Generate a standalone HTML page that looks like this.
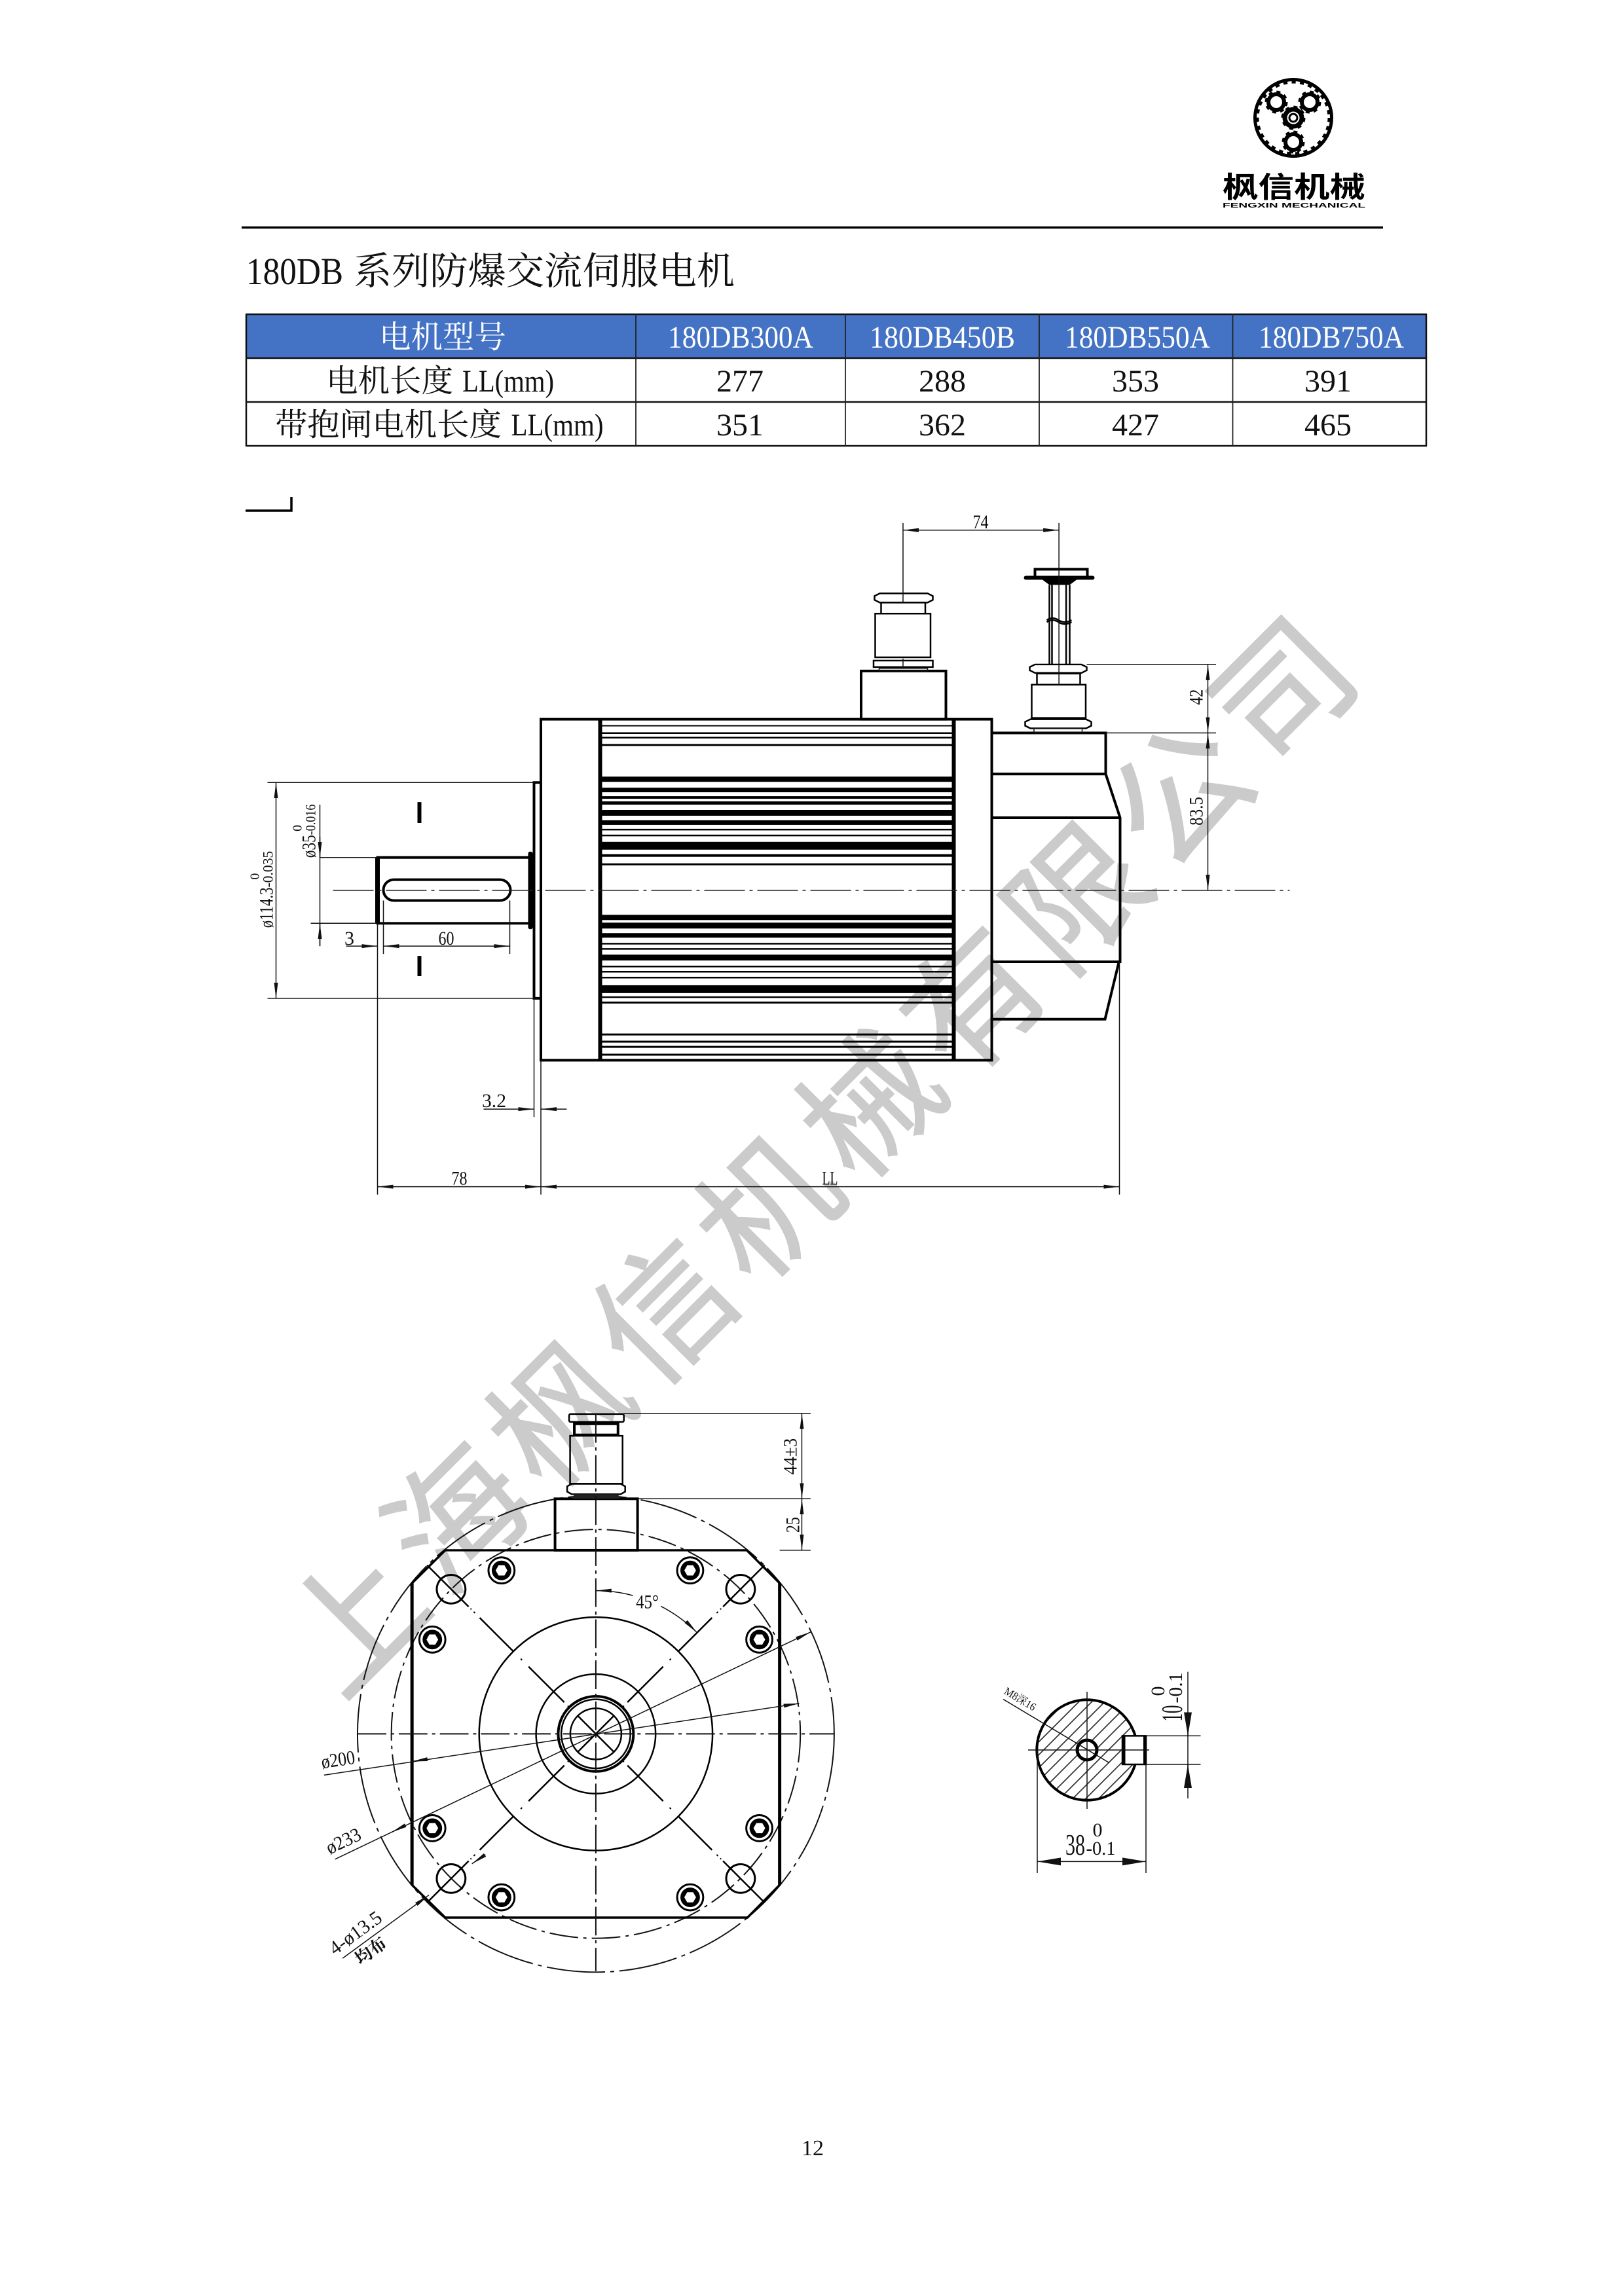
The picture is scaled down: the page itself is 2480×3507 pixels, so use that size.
<!DOCTYPE html>
<html><head><meta charset="utf-8"><style>
html,body{margin:0;padding:0;background:#fff}
svg{display:block}
.d{font-family:"Liberation Serif","Noto Serif CJK SC",serif;font-size:30px;fill:#111;text-anchor:middle}
.t{font-family:"Liberation Serif","Noto Serif CJK SC",serif;font-size:48px;fill:#111;text-anchor:middle}
.wt{fill:#fff}
.k{fill:none;stroke:#000;stroke-width:4}
.m{fill:none;stroke:#000;stroke-width:2.5}
.n{fill:none;stroke:#111;stroke-width:1.5}
.c{fill:none;stroke:#222;stroke-width:1.5;stroke-dasharray:62 7 5 7}
.f{fill:none;stroke:#111;stroke-width:2;stroke-dasharray:44 7 5 7}
</style></head><body>
<svg xmlns="http://www.w3.org/2000/svg" width="2480" height="3507" viewBox="0 0 2480 3507">
<defs>
<marker id="a" markerUnits="userSpaceOnUse" markerWidth="24" markerHeight="8" refX="24" refY="4" orient="auto-start-reverse"><path d="M0 1L24 4L0 7Z" fill="#111"/></marker>
<marker id="b" markerUnits="userSpaceOnUse" markerWidth="36" markerHeight="12" refX="36" refY="6" orient="auto-start-reverse"><path d="M0 0L36 6L0 12Z" fill="#111"/></marker>
<pattern id="h" patternUnits="userSpaceOnUse" width="14" height="14" patternTransform="rotate(-45)"><line x1="0" y1="7" x2="14" y2="7" stroke="#111" stroke-width="1.5"/></pattern>
<g id="ray"><path d="M366 0H276M252 0H178.6M146 0H68.5M39 0H0" stroke="#000" stroke-width="2.5" fill="none"/><path d="M262 0h3M270 0h2M160 0h3M58 0h3" stroke="#000" stroke-width="2" fill="none"/></g>
<g id="scr"><circle r="20" fill="#fff" stroke="#000" stroke-width="3"/><circle r="15" fill="#000"/><polygon points="9,0 4.5,7.8 -4.5,7.8 -9,0 -4.5,-7.8 4.5,-7.8" fill="#fff"/></g>
<g id="gear"><circle r="12" fill="none" stroke="#000" stroke-width="6"/><circle r="15.5" fill="none" stroke="#000" stroke-width="4" stroke-dasharray="6 6.2"/></g>
</defs>

<!-- watermark -->
<text transform="rotate(-45 543 2472)" x="437" y="2547" font-family="'Noto Sans CJK SC',sans-serif" font-size="205" letter-spacing="18" fill="#cbcbcb" stroke="#cbcbcb" stroke-width="2">上海枫信机械有限公司</text>

<!-- logo -->
<circle cx="1975" cy="180" r="58.5" fill="#fff" stroke="#000" stroke-width="5"/>
<circle cx="1975" cy="180" r="54.5" fill="none" stroke="#000" stroke-width="4" stroke-dasharray="6.3 6.4"/>
<use href="#gear" x="1949" y="156"/><use href="#gear" x="2000" y="156"/><use href="#gear" x="1975" y="217"/>
<circle cx="1975" cy="180" r="13" fill="none" stroke="#000" stroke-width="7"/><circle cx="1975" cy="180" r="16.5" fill="none" stroke="#000" stroke-width="4" stroke-dasharray="6 7"/>
<circle cx="1975" cy="180" r="6" fill="none" stroke="#000" stroke-width="3"/>
<text x="1867" y="301" font-family="'Noto Sans CJK SC',sans-serif" font-weight="700" font-size="44" textLength="218" lengthAdjust="spacingAndGlyphs">枫信机械</text>
<text x="1867" y="317" font-family="'Liberation Sans',sans-serif" font-weight="700" font-size="10" textLength="218" lengthAdjust="spacingAndGlyphs">FENGXIN MECHANICAL</text>
<line x1="369" y1="347.5" x2="2112" y2="347.5" stroke="#000" stroke-width="3.5"/>

<!-- title -->
<text x="376" y="434" font-family="'Liberation Serif',serif" font-size="58" fill="#111" textLength="148" lengthAdjust="spacingAndGlyphs">180DB</text>
<text x="540" y="434" font-family="'Noto Serif CJK SC',serif" font-size="58" fill="#111" textLength="582" lengthAdjust="spacingAndGlyphs">系列防爆交流伺服电机</text>

<!-- table -->
<rect x="376" y="480" width="1802" height="67" fill="#4472c4"/>
<path d="M375 480H2179M375 547H2179M375 614H2179M375 681H2179M376 480V681M2178 480V681" stroke="#111" stroke-width="2.5" fill="none"/>
<path d="M971 480V681M1291 480V681M1587 480V681M1882.5 480V681" stroke="#222" stroke-width="1.8" fill="none"/>
<text class="t wt" style="fill:#fff" x="676" y="531" textLength="194" lengthAdjust="spacingAndGlyphs">电机型号</text>
<text class="t" style="fill:#fff" x="1131" y="531" textLength="222" lengthAdjust="spacingAndGlyphs">180DB300A</text>
<text class="t" style="fill:#fff" x="1439" y="531" textLength="222" lengthAdjust="spacingAndGlyphs">180DB450B</text>
<text class="t" style="fill:#fff" x="1737" y="531" textLength="222" lengthAdjust="spacingAndGlyphs">180DB550A</text>
<text class="t" style="fill:#fff" x="2033" y="531" textLength="222" lengthAdjust="spacingAndGlyphs">180DB750A</text>
<text class="t" x="595" y="598" textLength="194" lengthAdjust="spacingAndGlyphs">电机长度</text>
<text class="t" x="776" y="598" textLength="140" lengthAdjust="spacingAndGlyphs">LL(mm)</text>
<text class="t" x="1130" y="598">277</text><text class="t" x="1439" y="598">288</text><text class="t" x="1734" y="598">353</text><text class="t" x="2028" y="598">391</text>
<text class="t" x="593" y="665" textLength="346" lengthAdjust="spacingAndGlyphs">带抱闸电机长度</text>
<text class="t" x="851" y="665" textLength="141" lengthAdjust="spacingAndGlyphs">LL(mm)</text>
<text class="t" x="1130" y="665">351</text><text class="t" x="1439" y="665">362</text><text class="t" x="1734" y="665">427</text><text class="t" x="2028" y="665">465</text>
<path d="M375 780H445V759" fill="none" stroke="#000" stroke-width="3.5"/>

<!-- SIDE VIEW -->
<g transform="matrix(1 0 0 .9959 -1.5 3.1)">
<!-- fins -->
<g fill="#000">
<rect x="917" y="1109" width="540" height="2"/><rect x="917" y="1120" width="540" height="2.5"/><rect x="917" y="1127" width="540" height="2.5"/><rect x="917" y="1138" width="540" height="3"/>
<rect x="917" y="1188" width="540" height="8"/><rect x="917" y="1205" width="540" height="7"/><rect x="917" y="1218" width="540" height="4"/><rect x="917" y="1226" width="540" height="5"/><rect x="917" y="1239" width="540" height="9"/><rect x="917" y="1255" width="540" height="7"/><rect x="917" y="1268" width="540" height="2.5"/><rect x="917" y="1277" width="540" height="2.5"/><rect x="917" y="1288" width="540" height="12"/><rect x="917" y="1307" width="540" height="4"/><rect x="917" y="1321" width="540" height="3"/>
<rect x="917" y="1400" width="540" height="8"/><rect x="917" y="1412" width="540" height="9"/><rect x="917" y="1428" width="540" height="7"/><rect x="917" y="1443" width="540" height="2.5"/><rect x="917" y="1451" width="540" height="2.5"/><rect x="917" y="1461" width="540" height="9"/><rect x="917" y="1478" width="540" height="2.5"/><rect x="917" y="1486" width="540" height="2.5"/><rect x="917" y="1495" width="540" height="2.5"/><rect x="917" y="1508" width="540" height="12"/><rect x="917" y="1525" width="540" height="2.5"/><rect x="917" y="1533" width="540" height="3"/>
<rect x="917" y="1582" width="540" height="3"/><rect x="917" y="1593" width="540" height="3"/><rect x="917" y="1601" width="540" height="3"/><rect x="917" y="1613" width="540" height="3"/>
</g>
<rect x="827.5" y="1100" width="688.5" height="523" fill="none" stroke="#000" stroke-width="4"/>
<path d="M918 1100V1623M1458 1100V1623" stroke="#000" stroke-width="6" fill="none"/>
<!-- pilot and shaft -->
<path d="M827 1197H817V1528H827" class="k"/>
<path d="M811 1312H578V1413H811" class="k"/>
<line x1="578" y1="1312" x2="578" y2="1413" stroke="#000" stroke-width="7"/>
<rect x="808" y="1303" width="7" height="119" rx="3" fill="#000"/>
<rect x="587" y="1346" width="194" height="32" rx="16" class="k"/>
<path d="M642 1227V1259M642 1463V1494" stroke="#000" stroke-width="6"/>
<!-- top connector 1 -->
<rect x="1316.5" y="1026" width="129.5" height="74" class="k"/>
<rect x="1344" y="1022" width="74" height="4" class="n"/>
<path d="M1335.5 1010H1426V1020H1335.5Z" class="m"/><path d="M1380.5 1007V1022" class="n"/>
<rect x="1338" y="938" width="84.5" height="67" class="m"/>
<rect x="1347" y="921" width="67.5" height="17" class="m"/>
<path d="M1337 911L1345 907H1418L1426 911V917L1418 921H1345L1337 917Z" class="m"/>
<!-- rear -->
<path d="M1517 1121H1690V1184M1517 1184H1690L1712 1251V1472H1517M1517 1251H1712M1710 1473L1689 1560H1517" class="k"/>
<!-- connector 2 -->
<path d="M1567 1104L1575 1100H1660L1668 1104V1110L1660 1114H1575L1567 1110Z" class="m"/>
<rect x="1580.5" y="1114" width="73.5" height="7" class="n"/>
<rect x="1577" y="1047" width="82.5" height="51" class="m"/>
<rect x="1585" y="1030" width="66" height="17" class="m"/>
<path d="M1574 1020L1582 1016H1653L1661 1020V1025L1653 1029H1582L1574 1025Z" class="m"/>
<path d="M1604 894V1016M1635 894V1016" class="m"/>
<path d="M1608 894V1016M1629.6 894V1016" class="m"/>
<path d="M1600 948q9 -6 18 0t20 0M1600 951q9 -6 18 0t20 0" class="m"/>
<line x1="1568" y1="883" x2="1670" y2="883" stroke="#000" stroke-width="6" stroke-linecap="round"/>
<path d="M1582 883V870H1662V883" class="k"/>
<path d="M1592 885L1604 894H1635L1647 885Z" fill="#000"/>
<!-- centerline -->
<line x1="510" y1="1362.5" x2="1971" y2="1362.5" class="c"/>
<!-- side dims -->
<path d="M1380.5 799V921M1618.6 799V1047" class="n"/>
<line x1="1380.5" y1="810" x2="1618.6" y2="810" class="n" marker-start="url(#a)" marker-end="url(#a)"/>
<path d="M1661 1016H1858.5M1690 1121H1858.5" class="n"/>
<line x1="1846" y1="1016" x2="1846" y2="1121" class="n" marker-start="url(#a)" marker-end="url(#a)"/>
<line x1="1846" y1="1121" x2="1846" y2="1362.5" class="n" marker-start="url(#a)" marker-end="url(#a)"/>
<path d="M410 1197H817M410 1528H817" class="n"/>
<line x1="423" y1="1197" x2="423" y2="1528" class="n" marker-start="url(#a)" marker-end="url(#a)"/>
<path d="M490 1312H578M476 1413H578" class="n"/>
<path d="M490 1231V1448" class="n"/>
<line x1="490" y1="1280" x2="490" y2="1312" class="n" marker-end="url(#a)"/>
<line x1="490" y1="1448" x2="490" y2="1413" class="n" marker-end="url(#a)"/>
<path d="M578 1413V1829M587 1378V1460M780 1378V1460M817 1528V1710M827.5 1623V1829M1711 1472V1829" class="n"/>
<line x1="587" y1="1448" x2="780" y2="1448" class="n" marker-start="url(#a)" marker-end="url(#a)"/>
<line x1="530" y1="1448" x2="578" y2="1448" class="n" marker-end="url(#a)"/>
<line x1="740" y1="1698" x2="817" y2="1698" class="n" marker-end="url(#a)"/>
<line x1="867" y1="1698" x2="827.5" y2="1698" class="n" marker-end="url(#a)"/>
<line x1="578" y1="1817" x2="827.5" y2="1817" class="n" marker-start="url(#a)" marker-end="url(#a)"/>
<line x1="827.5" y1="1817" x2="1711" y2="1817" class="n" marker-start="url(#a)" marker-end="url(#a)"/>
<text class="d" x="1499" y="807" textLength="24" lengthAdjust="spacingAndGlyphs">74</text>
<text class="d" x="683" y="1446" textLength="24" lengthAdjust="spacingAndGlyphs">60</text>
<text class="d" x="535" y="1446">3</text>
<text class="d" x="756" y="1695" textLength="37" lengthAdjust="spacingAndGlyphs">3.2</text>
<text class="d" x="703" y="1814" textLength="24" lengthAdjust="spacingAndGlyphs">78</text>
<text class="d" x="1269" y="1814" textLength="24" lengthAdjust="spacingAndGlyphs">LL</text>
<text class="d" transform="rotate(-90 1838 1066)" x="1838" y="1066" textLength="24" lengthAdjust="spacingAndGlyphs">42</text>
<text class="d" transform="rotate(-90 1838 1241)" x="1838" y="1241" textLength="44" lengthAdjust="spacingAndGlyphs">83.5</text>
<text class="d" transform="rotate(-90 483 1295)" x="483" y="1295" textLength="35" lengthAdjust="spacingAndGlyphs">ø35</text>
<text class="d" style="font-size:22px" transform="rotate(-90 483 1254)" x="483" y="1254" textLength="47" lengthAdjust="spacingAndGlyphs">-0.016</text>
<text class="d" style="font-size:20px" transform="rotate(-90 462 1267)" x="462" y="1267">0</text>
<text class="d" transform="rotate(-90 418 1389)" x="418" y="1389" textLength="62" lengthAdjust="spacingAndGlyphs">ø114.3</text>
<text class="d" style="font-size:22px" transform="rotate(-90 418 1330)" x="418" y="1330" textLength="56" lengthAdjust="spacingAndGlyphs">-0.035</text>
<text class="d" style="font-size:20px" transform="rotate(-90 397 1341)" x="397" y="1341">0</text>
</g>

<!-- FRONT VIEW -->
<g transform="matrix(.9955 0 0 .9955 2 9.6)">
<circle cx="912" cy="2650.7" r="365.6" fill="none" stroke="#111" stroke-width="2" stroke-dasharray="90 8 6 8"/>
<circle cx="912" cy="2650.7" r="313.7" fill="none" stroke="#111" stroke-width="2" stroke-dasharray="44 8 5 8"/>
<path d="M681 2369H1143.5L1194 2419.5V2882.5L1144.6 2932.6H681L630 2882.5V2419.5Z" fill="none" stroke="#000" stroke-width="3.5"/>
<path d="M630 2419.5V2882.5M1194 2419.5V2882.5" stroke="#000" stroke-width="5"/>
<rect x="849.4" y="2290" width="126.6" height="79" fill="#fff" fill-opacity="0.01" stroke="#000" stroke-width="4"/>
<path d="M868 2271L875 2267H950L957 2271V2279L950 2283H875L868 2279Z" class="m"/>
<rect x="878" y="2283" width="69" height="7" fill="#222"/>
<rect x="872.5" y="2193.4" width="80.5" height="73.6" class="m"/>
<rect x="879" y="2175" width="67" height="17" class="k"/>
<rect x="871" y="2160" width="84" height="12" rx="2" class="m"/>
<circle cx="912" cy="2650.7" r="179" class="m"/>
<circle cx="912" cy="2650.7" r="91.7" class="m"/>
<circle cx="912" cy="2650.7" r="57.7" class="k"/>
<circle cx="912" cy="2650.7" r="53" class="m"/>
<circle cx="912" cy="2650.7" r="39.2" class="m"/>
<g transform="translate(912 2650.7)">
<use href="#ray" transform="rotate(45)"/><use href="#ray" transform="rotate(135)"/><use href="#ray" transform="rotate(225)"/><use href="#ray" transform="rotate(315)"/>
</g>
<g fill="none" stroke="#000" stroke-width="3">
<circle cx="690" cy="2428.7" r="22"/><circle cx="1134" cy="2428.7" r="22"/><circle cx="690" cy="2872.7" r="22"/><circle cx="1134" cy="2872.7" r="22"/>
</g>
<use href="#scr" x="767.3" y="2399.9"/><use href="#scr" x="1056.7" y="2399.9"/><use href="#scr" x="661.2" y="2506"/><use href="#scr" x="1162.8" y="2506"/><use href="#scr" x="661.2" y="2795.4"/><use href="#scr" x="1162.8" y="2795.4"/><use href="#scr" x="767.3" y="2901.5"/><use href="#scr" x="1056.7" y="2901.5"/>
<line x1="546.7" y1="2650.7" x2="1278" y2="2650.7" class="f"/>
<line x1="912" y1="2160" x2="912" y2="3015" class="f"/>
<!-- front dims -->
<path d="M955 2159H1241.5M976 2290H1241.5M1194 2369H1241.5" class="n"/>
<line x1="1228" y1="2159" x2="1228" y2="2290" class="n" marker-start="url(#a)" marker-end="url(#a)"/>
<line x1="1228" y1="2290" x2="1228" y2="2369" class="n" marker-start="url(#a)" marker-end="url(#a)"/>
<path d="M968.9 2438.5A219.7 219.7 0 0 0 912 2431" class="n" marker-end="url(#a)"/>
<path d="M1011.7 2454.9A219.7 219.7 0 0 1 1067.3 2495.4" class="n" marker-end="url(#a)"/>
<line x1="495" y1="2714" x2="1224" y2="2604" class="n" marker-end="url(#a)"/>
<line x1="654" y1="2689.5" x2="630" y2="2693" class="n" marker-end="url(#a)"/>
<line x1="512" y1="2843" x2="1241.5" y2="2494.4" class="n" marker-end="url(#a)"/>
<line x1="620" y1="2791" x2="598.6" y2="2801.7" class="n" marker-end="url(#a)"/>
<line x1="523.6" y1="2995" x2="656" y2="2898" class="n" marker-end="url(#a)"/>
<line x1="742.7" y1="2836" x2="722" y2="2850" class="n" marker-end="url(#a)"/>
<text class="d" transform="rotate(-8.6 518 2700)" x="518" y="2700" textLength="52" lengthAdjust="spacingAndGlyphs">ø200</text>
<text class="d" transform="rotate(-25.6 529 2824)" x="529" y="2824" textLength="56" lengthAdjust="spacingAndGlyphs">ø233</text>
<text class="d" transform="rotate(-36 549 2964)" x="549" y="2964" textLength="92" lengthAdjust="spacingAndGlyphs">4-ø13.5</text>
<text class="d" style="font-size:26px;font-weight:700" transform="rotate(-36 572 2991)" x="572" y="2991">均布</text>
<text class="d" x="991" y="2458" textLength="35" lengthAdjust="spacingAndGlyphs">45°</text>
<text class="d" transform="rotate(-90 1220 2225)" x="1220" y="2225" textLength="56" lengthAdjust="spacingAndGlyphs">44±3</text>
<text class="d" transform="rotate(-90 1224 2330)" x="1224" y="2330" textLength="24" lengthAdjust="spacingAndGlyphs">25</text>
</g>

<!-- SHAFT SECTION -->
<circle cx="1660" cy="2673" r="76.7" fill="url(#h)" stroke="#000" stroke-width="4"/>
<rect x="1714" y="2651.4" width="36" height="43.6" fill="#fff"/>
<path d="M1714 2651.4H1750V2695H1714Z" class="m"/>
<path d="M1716 2651V2695M1748.5 2651V2695" stroke="#000" stroke-width="5"/>
<circle cx="1660" cy="2673" r="15" fill="#fff" stroke="#000" stroke-width="5"/>
<path d="M1570 2673H1755M1660 2584V2763" class="n"/>
<path d="M1532 2595.5L1694 2692.6" class="n"/>
<path d="M1750 2651.4H1833.5M1750 2695H1833.5M1814 2553.6V2747M1584 2673V2861M1750 2695V2861" class="n"/>
<line x1="1814" y1="2615" x2="1814" y2="2651.4" class="n" marker-end="url(#b)"/>
<line x1="1814" y1="2730" x2="1814" y2="2695" class="n" marker-end="url(#b)"/>
<line x1="1584" y1="2843.4" x2="1750" y2="2843.4" class="n" marker-start="url(#b)" marker-end="url(#b)"/>
<text class="d" style="font-size:17px" transform="rotate(31 1555 2600)" x="1555" y="2600" textLength="53" lengthAdjust="spacingAndGlyphs">M8深16</text>
<text class="d" style="font-size:45px" x="1642" y="2833" textLength="30" lengthAdjust="spacingAndGlyphs">38</text>
<text class="d" style="font-size:30px" x="1676" y="2805">0</text>
<text class="d" style="font-size:30px" x="1681" y="2833" textLength="45" lengthAdjust="spacingAndGlyphs">-0.1</text>
<text class="d" style="font-size:45px" transform="rotate(-90 1805 2617)" x="1805" y="2617" textLength="25" lengthAdjust="spacingAndGlyphs">10</text>
<text class="d" style="font-size:30px" transform="rotate(-90 1805 2578)" x="1805" y="2578" textLength="47" lengthAdjust="spacingAndGlyphs">-0.1</text>
<text class="d" style="font-size:30px" transform="rotate(-90 1778 2583)" x="1778" y="2583">0</text>

<text x="1241" y="3292" font-family="'Liberation Serif',serif" font-size="34" text-anchor="middle" fill="#111">12</text>
</svg>
</body></html>
